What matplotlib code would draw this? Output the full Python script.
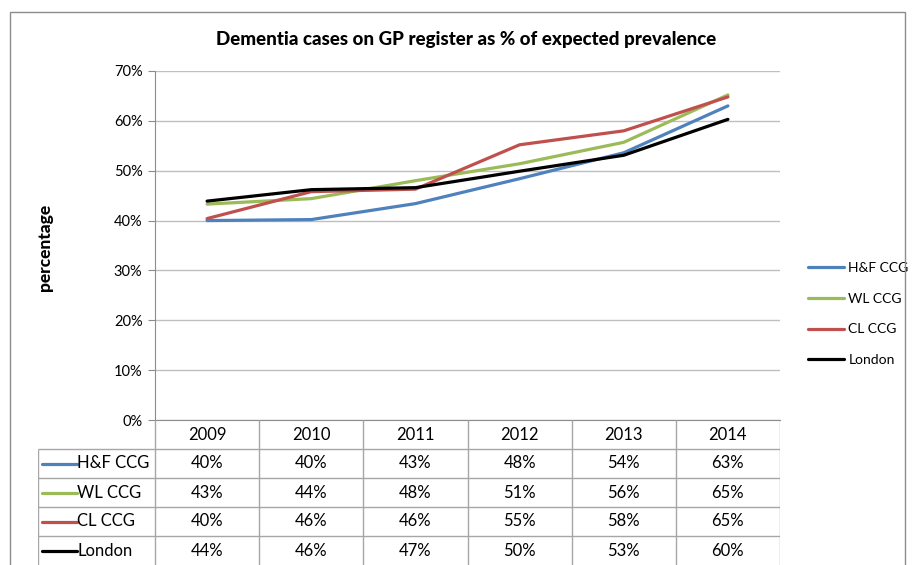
import numpy as np
import matplotlib.pyplot as plt
from matplotlib.patches import Rectangle

plt.rcParams['font.family'] = ['Lato', 'DejaVu Sans']

# data
years = ['2009', '2010', '2011', '2012', '2013', '2014']
series_names = ['H&F CCG', 'WL CCG', 'CL CCG', 'London']
hf_ccg = [40.0, 40.2, 43.4, 48.4, 53.6, 63.0]
wl_ccg = [43.3, 44.4, 48.0, 51.4, 55.7, 65.2]
cl_ccg = [40.4, 45.8, 46.3, 55.2, 58.0, 64.8]
london = [43.9, 46.2, 46.6, 49.9, 53.1, 60.3]
yticks = [0, 10, 20, 30, 40, 50, 60, 70]

values = [hf_ccg, wl_ccg, cl_ccg, london]
colors = ['#4F81BD', '#9BBB59', '#C0504D', '#000000']

W, H = 914, 565
fig = plt.figure(figsize=(W / 100, H / 100), dpi=100)

def fx(px):
    return px / W

def fy(py):
    return 1 - py / H

# outer chart border
fig.patches.append(Rectangle((fx(10), fy(575)), fx(905) - fx(10), fy(12) - fy(575),
                             transform=fig.transFigure, fill=False,
                             edgecolor='#8c8c8c', linewidth=1.0))

# main plot area
ax = fig.add_axes([fx(155), fy(420), fx(780) - fx(155), fy(71) - fy(420)])
x = np.arange(len(years))
for name, vals, c in zip(series_names, values, colors):
    ax.plot(x, vals, color=c, linewidth=2.3, label=name, solid_capstyle='round')

ax.set_xlim(-0.5, len(years) - 0.5)
ax.set_ylim(0, 70)
ax.set_yticks(yticks)
ax.set_yticklabels([f'{t}%' for t in yticks], fontsize=10.5)
ax.set_xticks([])
ax.yaxis.grid(True, color='#bfbfbf', linewidth=1.0)
ax.set_axisbelow(True)
for s in ['top', 'right']:
    ax.spines[s].set_visible(False)
ax.spines['left'].set_color('#8c8c8c')
ax.spines['bottom'].set_color('#8c8c8c')
ax.tick_params(axis='y', length=5, color='#8c8c8c', pad=4)

fig.text(fx(466), fy(40), 'Dementia cases on GP register as % of expected prevalence',
         ha='center', va='center', fontsize=13.5, fontweight='black')
fig.text(fx(45), fy(247), 'percentage', rotation=90, ha='center', va='center',
         fontsize=12.5, fontweight='black')

ax.legend(loc='center left', bbox_to_anchor=(fx(795), fy(314)),
          bbox_transform=fig.transFigure, frameon=False, fontsize=10,
          handlelength=2.6, labelspacing=1.35, handletextpad=0.35)

# data table under the plot
col_w = (780 - 155) / len(years)
label_w = (155 - 38) / col_w
tb = fig.add_axes([fx(38), fy(565), fx(780) - fx(38), fy(420) - fy(565)])
tb.set_xlim(-0.5 - label_w, len(years) - 0.5)
tb.set_ylim(len(series_names) + 1, 0)
tb.axis('off')
grid_kw = dict(color='#a6a6a6', linewidth=1.0)
left = -0.5 - label_w
for i in range(len(years) + 1):
    tb.vlines(i - 0.5, 0, len(series_names) + 1, **grid_kw)
tb.vlines(left, 1, len(series_names) + 1, **grid_kw)
for r in range(1, len(series_names) + 1):
    tb.hlines(r, left, len(years) - 0.5, **grid_kw)

for i, yr in enumerate(years):
    tb.text(i, 0.5, yr, ha='center', va='center', fontsize=12)
for r, (name, vals, c) in enumerate(zip(series_names, values, colors), start=1):
    tb.plot([left + 0.04, left + 0.37], [r + 0.5, r + 0.5], color=c, linewidth=2.3,
            solid_capstyle='round')
    tb.text(left + 0.375, r + 0.5, name, ha='left', va='center', fontsize=12)
    for i, v in enumerate(vals):
        tb.text(i, r + 0.5, f'{round(v)}%', ha='center', va='center', fontsize=12)

fig.savefig('out.png', dpi=100)
